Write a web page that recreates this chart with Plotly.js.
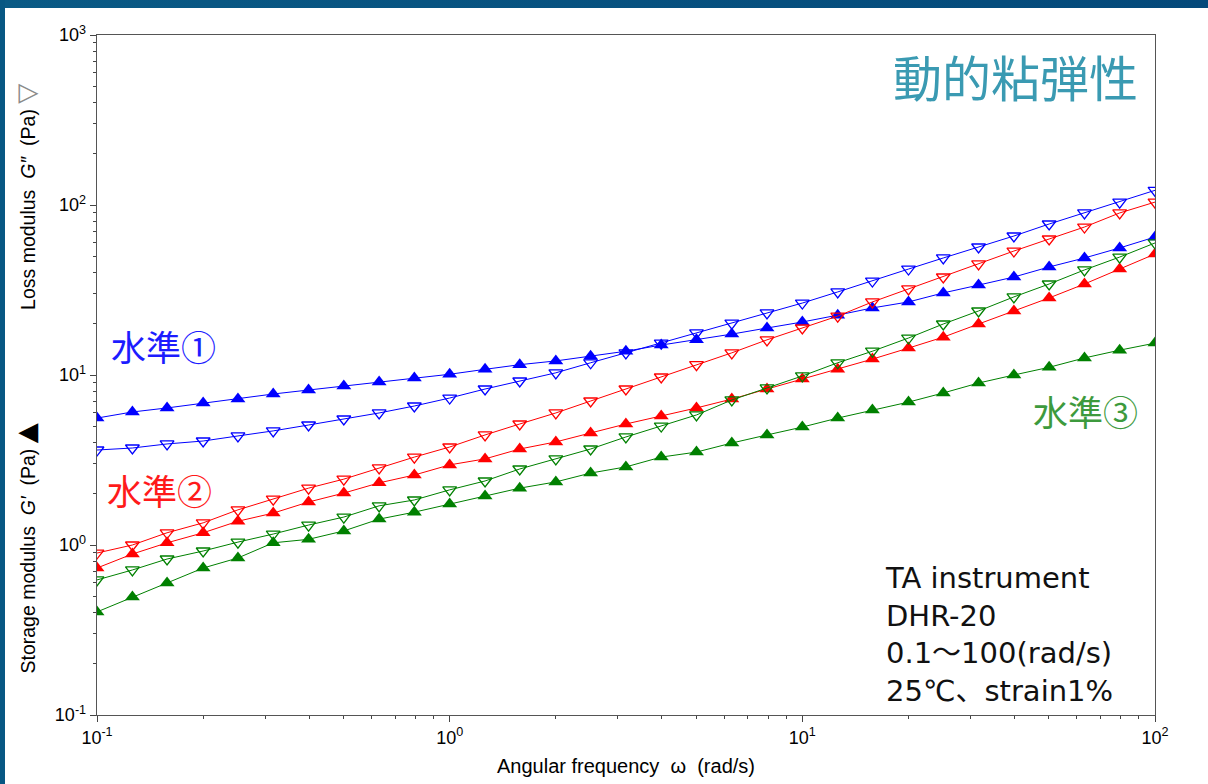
<!DOCTYPE html>
<html>
<head>
<meta charset="utf-8">
<script src="https://cdn.plot.ly/plotly-3.0.1.min.js"></script>
<style>
  html, body { margin: 0; padding: 0; background: #ffffff; }
  #wrap { position: relative; width: 1208px; height: 784px; overflow: hidden; }
  #chart { position: absolute; left: 0; top: 0; width: 1208px; height: 784px; }
  #bandTop { position: absolute; left: 0; top: 0; width: 1208px; height: 8px; background: linear-gradient(to right, #0a5a85, #04497a); }
  #bandLeft { position: absolute; left: 0; top: 0; width: 5px; height: 784px; background: #075783; }
</style>
</head>
<body>
<div id="wrap">
  <div id="chart"></div>
  <div id="bandTop"></div>
  <div id="bandLeft"></div>
</div>
<script>
// Angular frequency (rad/s), 10 points per decade from 0.1 to 100
const omega = [0.1, 0.126, 0.158, 0.2, 0.251, 0.316, 0.398, 0.501, 0.631, 0.794,
               1, 1.26, 1.58, 2, 2.51, 3.16, 3.98, 5.01, 6.31, 7.94,
               10, 12.6, 15.8, 20, 25.1, 31.6, 39.8, 50.1, 63.1, 79.4, 100];

// Level 1 (blue)
const lvl1_Gp  = [5.58, 6.06, 6.40, 6.84, 7.22, 7.73, 8.16, 8.61, 9.10, 9.60,
                  10.1, 10.8, 11.5, 12.1, 12.9, 13.8, 15.0, 16.1, 17.4, 18.9,
                  20.5, 22.5, 24.8, 26.9, 30.4, 33.8, 37.7, 43.2, 48.8, 55.9, 64.8];
const lvl1_Gpp = [3.62, 3.72, 3.93, 4.09, 4.38, 4.69, 5.08, 5.51, 5.98, 6.57,
                  7.32, 8.27, 9.22, 10.3, 11.8, 13.5, 15.4, 17.7, 20.2, 23.2,
                  26.5, 30.8, 35.7, 42.0, 48.8, 56.6, 65.7, 77.3, 89.8, 104, 122];
// Level 2 (red)
const lvl2_Gp  = [0.732, 0.885, 1.03, 1.18, 1.38, 1.54, 1.79, 2.02, 2.32, 2.58,
                  2.96, 3.21, 3.67, 4.04, 4.56, 5.15, 5.74, 6.40, 7.22, 8.27,
                  9.47, 10.8, 12.4, 14.4, 16.7, 19.95, 23.8, 28.4, 34.3, 42.0, 51.5];
const lvl2_Gpp = [0.897, 1.00, 1.18, 1.35, 1.61, 1.86, 2.16, 2.44, 2.84, 3.29,
                  3.77, 4.44, 5.15, 5.98, 7.03, 8.27, 9.73, 11.5, 13.5, 16.1,
                  18.9, 22.2, 26.9, 32.1, 37.7, 45.0, 53.6, 63.1, 74.2, 89.8, 104];
// Level 3 (green)
const lvl3_Gp  = [0.404, 0.494, 0.598, 0.732, 0.839, 1.03, 1.08, 1.21, 1.42, 1.56,
                  1.74, 1.94, 2.16, 2.35, 2.65, 2.88, 3.29, 3.52, 3.98, 4.44,
                  4.94, 5.58, 6.22, 6.93, 7.84, 8.97, 10.0, 11.1, 12.6, 14.0, 15.4];
const lvl3_Gpp = [0.623, 0.713, 0.827, 0.922, 1.04, 1.16, 1.31, 1.46, 1.70, 1.84,
                  2.11, 2.38, 2.80, 3.21, 3.67, 4.32, 5.01, 5.82, 7.13, 8.39,
                  9.87, 11.8, 13.8, 16.5, 19.95, 23.8, 28.8, 34.3, 41.5, 49.4, 59.8];

const xTickVals = [0.1, 1, 10, 100];
const xTickText = ['10<sup>-1</sup>', '10<sup>0</sup>', '10<sup>1</sup>', '10<sup>2</sup>'];
const yTickVals = [0.1, 1, 10, 100, 1000];
const yTickText = ['10<sup>-1</sup>', '10<sup>0</sup>', '10<sup>1</sup>', '10<sup>2</sup>', '10<sup>3</sup>'];

const seriesColors = {blue: '#0000ff', red: '#ff0000', green: '#008000'};

function minorVals(lo, hi) {
  const out = [];
  for (let d = lo; d < hi; d++) {
    for (let m = 2; m <= 9; m++) out.push(m * Math.pow(10, d));
  }
  return out;
}

function trace(y, color, filled) {
  return {
    x: omega, y: y, type: 'scatter', mode: 'lines+markers',
    line: {color: color, width: 1},
    marker: filled
      ? {symbol: 'triangle-up', size: 13, color: color, line: {width: 0}}
      : {symbol: 'triangle-down-open', size: 12, color: color, line: {width: 1.3, color: color}},
    hoverinfo: 'x+y', showlegend: false
  };
}

const data = [
  trace(lvl1_Gpp, seriesColors.blue, false),
  trace(lvl1_Gp, seriesColors.blue, true),
  trace(lvl2_Gpp, seriesColors.red, false),
  trace(lvl2_Gp, seriesColors.red, true),
  trace(lvl3_Gpp, seriesColors.green, false),
  trace(lvl3_Gp, seriesColors.green, true)
];

const sans = 'Liberation Sans, Arial, sans-serif';
const axisFont = {family: sans, size: 18, color: '#000'};
const cjk = 'Noto Sans CJK JP, sans-serif';
const infoFont = 'DejaVu Sans, Noto Sans CJK JP, sans-serif';

const layout = {
  width: 1208, height: 784,
  margin: {l: 97, r: 53, t: 35, b: 69},
  paper_bgcolor: '#ffffff', plot_bgcolor: '#ffffff',
  showlegend: false,
  xaxis: {
    type: 'log', range: [-1, 2], tickmode: 'array',
    tickvals: xTickVals, ticktext: xTickText,
    ticks: 'outside', ticklen: 6, tickwidth: 1, tickcolor: '#444',
    showline: true, linecolor: '#555', linewidth: 1.3, mirror: true,
    showgrid: false, zeroline: false,
    tickfont: axisFont,
    minor: {tickmode: 'array', tickvals: minorVals(-1, 2), ticks: 'outside', ticklen: 3, tickcolor: '#444', showgrid: false},
    title: {text: 'Angular frequency  ω  (rad/s)', font: {family: sans, size: 20, color: '#000'}, standoff: 12}
  },
  yaxis: {
    type: 'log', range: [-1, 3], tickmode: 'array',
    tickvals: yTickVals, ticktext: yTickText,
    ticks: 'outside', ticklen: 6, tickwidth: 1, tickcolor: '#444',
    showline: true, linecolor: '#555', linewidth: 1.3, mirror: true,
    showgrid: false, zeroline: false,
    tickfont: axisFont,
    minor: {tickmode: 'array', tickvals: minorVals(-1, 3), ticks: 'outside', ticklen: 3, tickcolor: '#444', showgrid: false}
  },
  annotations: [
    {xref: 'paper', yref: 'paper', x: 0.986, y: 0.941, xanchor: 'right', yanchor: 'middle', showarrow: false,
     text: '動的粘弾性', font: {family: cjk, size: 49, color: '#3a9ab2'}},
    {xref: 'paper', yref: 'paper', x: 0.011, y: 0.544, xanchor: 'left', yanchor: 'middle', showarrow: false,
     text: '水準①', font: {family: cjk, size: 35, color: '#1c1cff'}},
    {xref: 'paper', yref: 'paper', x: 0.008, y: 0.331, xanchor: 'left', yanchor: 'middle', showarrow: false,
     text: '水準②', font: {family: cjk, size: 35, color: '#ff1a1a'}},
    {xref: 'paper', yref: 'paper', x: 0.986, y: 0.4485, xanchor: 'right', yanchor: 'middle', showarrow: false,
     text: '水準③', font: {family: cjk, size: 35, color: '#3d9a3d'}},
    {xref: 'paper', yref: 'paper', x: 0.743, y: 0.119, xanchor: 'left', yanchor: 'middle', showarrow: false, align: 'left',
     text: 'TA instrument<br>DHR-20<br>0.1～100(rad/s)<br>25℃、strain1%',
     font: {family: infoFont, size: 29, color: '#111'}},
    {xref: 'paper', yref: 'paper', x: -0.067, y: 0.245, xanchor: 'center', yanchor: 'middle', showarrow: false, textangle: -90,
     text: 'Storage modulus  <i>G′</i>  (Pa) <span style="font-family:DejaVu Sans;font-size:26px">▲</span>',
     font: {family: sans, size: 19.5, color: '#000'}},
    {xref: 'paper', yref: 'paper', x: -0.067, y: 0.762, xanchor: 'center', yanchor: 'middle', showarrow: false, textangle: -90,
     text: 'Loss modulus  <i>G″</i>  (Pa) <span style="font-family:DejaVu Sans;font-size:26px;color:#8a8a8a">▽</span>',
     font: {family: sans, size: 19.5, color: '#000'}}
  ]
};

Plotly.newPlot('chart', data, layout, {displayModeBar: false, staticPlot: true});
</script>
</body>
</html>
